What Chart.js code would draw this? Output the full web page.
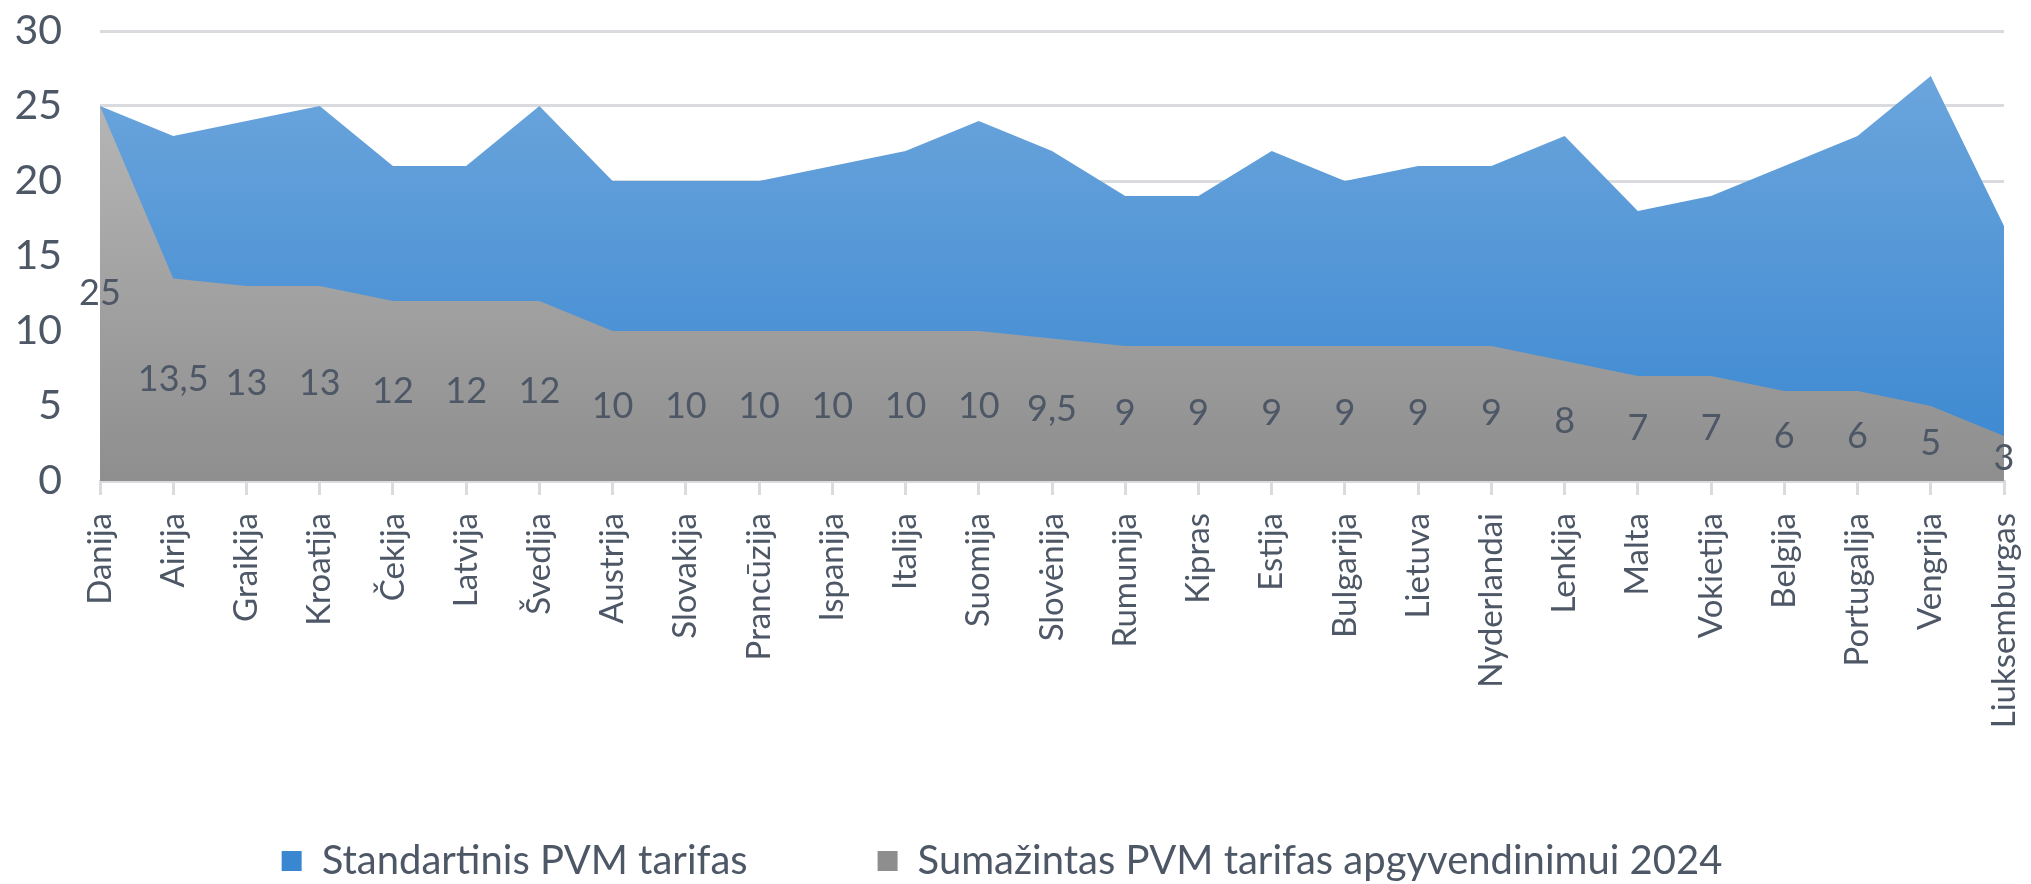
<!DOCTYPE html>
<html>
<head>
<meta charset="utf-8">
<script src="https://cdn.jsdelivr.net/npm/chart.js@4.4.1/dist/chart.umd.min.js"></script>
<style>
  html, body { margin: 0; padding: 0; background: #ffffff; }
  #wrap { width: 2031px; height: 884px; position: relative; }
</style>
</head>
<body>
<div id="wrap"><canvas id="vatChart"></canvas></div>
<script>
// --- duomenys ---
const countries = ['Danija', 'Airija', 'Graikija', 'Kroatija', 'Čekija', 'Latvija', 'Švedija', 'Austrija', 'Slovakija',
  'Prancūzija', 'Ispanija', 'Italija', 'Suomija', 'Slovėnija', 'Rumunija', 'Kipras', 'Estija', 'Bulgarija', 'Lietuva',
  'Nyderlandai', 'Lenkija', 'Malta', 'Vokietija', 'Belgija', 'Portugalija', 'Vengrija', 'Liuksemburgas'];
const standardRates = [25, 23, 24, 25, 21, 21, 25, 20, 20, 20, 21, 22, 24, 22, 19, 19, 22, 20, 21, 21, 23, 18, 19, 21, 23, 27, 17];
const reducedRates = [25, 13.5, 13, 13, 12, 12, 12, 10, 10, 10, 10, 10, 10, 9.5, 9, 9, 9, 9, 9, 9, 8, 7, 7, 6, 6, 5, 3];
const seriesNames = ['Standartinis PVM tarifas', 'Sumažintas PVM tarifas apgyvendinimui 2024'];
const yMin = 0, yMax = 30, yStep = 5;

const textColor = '#4d5766';
const gridColor = '#d9dbdf';
const FONT = 'Lato';

function vGradient(ctx, top, bottom) {
  const chart = ctx.chart;
  const area = chart.chartArea;
  if (!area) return bottom;
  const g = chart.ctx.createLinearGradient(0, area.top, 0, area.bottom);
  g.addColorStop(0, top);
  g.addColorStop(1, bottom);
  return g;
}

// reikšmių etiketės pilkos srities viduryje
const areaLabels = {
  id: 'areaLabels',
  afterDatasetsDraw(chart) {
    const c = chart.ctx;
    const xs = chart.scales.x, ys = chart.scales.y;
    c.save();
    c.font = '36px ' + FONT;
    c.fillStyle = textColor;
    c.textAlign = 'center';
    c.textBaseline = 'middle';
    reducedRates.forEach((v, i) => {
      c.fillText(String(v).replace('.', ','), xs.getPixelForValue(i), ys.getPixelForValue(v / 2));
    });
    c.restore();
  }
};

const chart = new Chart(document.getElementById('vatChart'), {
  type: 'line',
  data: {
    labels: countries,
    datasets: [
      { label: seriesNames[1], data: reducedRates, fill: 'origin', pointRadius: 0, borderWidth: 0, borderColor: 'rgba(0,0,0,0)',
        backgroundColor: (ctx) => vGradient(ctx, '#bdbdbd', '#8e8e8e') },
      { label: seriesNames[0], data: standardRates, fill: 'origin', pointRadius: 0, borderWidth: 0, borderColor: 'rgba(0,0,0,0)',
        backgroundColor: (ctx) => vGradient(ctx, '#70a8dd', '#3a87d1') }
    ]
  },
  options: {
    responsive: true, maintainAspectRatio: false, animation: false,
    layout: { padding: { top: 31, right: 27, left: 0, bottom: -7 } },
    scales: {
      x: {
        offset: false,
        grid: { display: true, drawOnChartArea: false, drawTicks: true, tickLength: 14, color: gridColor, lineWidth: 3 },
        border: { display: true, color: gridColor, width: 3 },
        ticks: { autoSkip: false, minRotation: 90, maxRotation: 90, padding: 18, color: textColor, font: { family: FONT, size: 33 } },
        afterFit(scale) { scale.height = 315; scale.paddingLeft = 0; scale.paddingRight = 0; }
      },
      y: {
        min: yMin, max: yMax,
        grid: { color: gridColor, lineWidth: 3, drawTicks: false },
        border: { display: false },
        ticks: { stepSize: yStep, padding: 38, color: textColor, font: { family: FONT, size: 41 } },
        afterFit(scale) { scale.width = 100; scale.paddingTop = 0; scale.paddingBottom = 0; }
      }
    },
    plugins: {
      tooltip: { enabled: false },
      legend: {
        position: 'bottom', reverse: true,
        labels: {
          boxWidth: 20, boxHeight: 20, padding: 45, color: textColor, font: { family: FONT, size: 40 },
          // tuščias tarpas tarp dviejų legendos elementų
          generateLabels(ch) {
            const items = Chart.defaults.plugins.legend.labels.generateLabels(ch);
            const gap = { text: '', fillStyle: 'rgba(0,0,0,0)', strokeStyle: 'rgba(0,0,0,0)', lineWidth: 0, hidden: false, datasetIndex: -1 };
            return [items[0], gap, items[1]];
          }
        }
      }
    }
  },
  plugins: [areaLabels]
});
</script>
</body>
</html>
